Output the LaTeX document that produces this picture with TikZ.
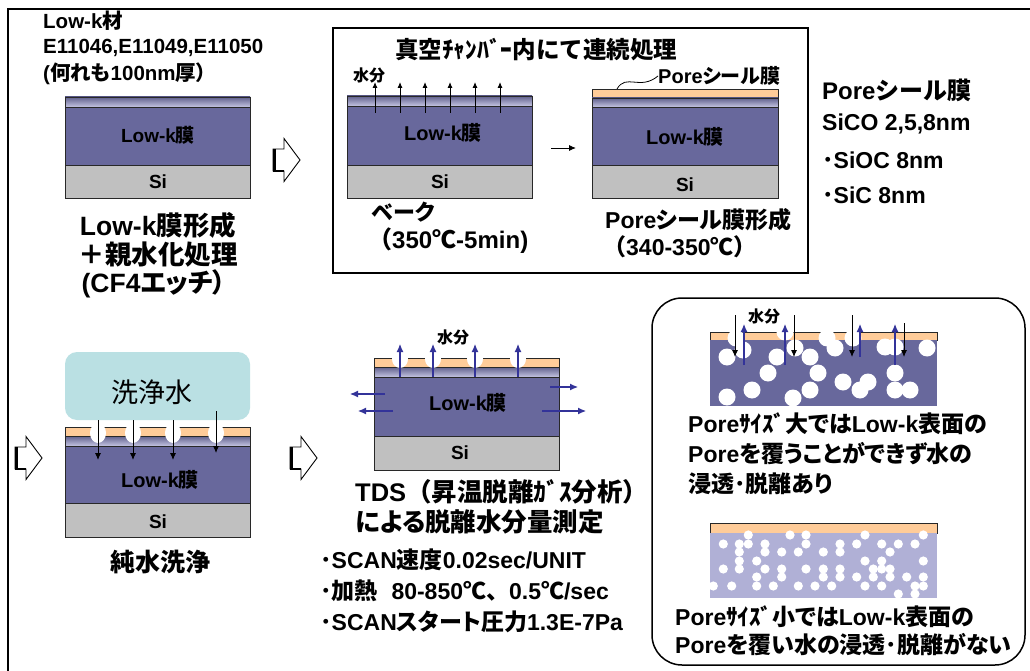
\documentclass[tikz,border=0pt]{standalone}
\usepackage{fontspec}
\setmainfont{Liberation Sans}
\newfontfamily\jpfont{Noto Sans CJK JP}[RawFeature=+palt]
\newfontfamily\jpfull{Noto Sans CJK JP}
\usetikzlibrary{arrows.meta}
% proportional and full-width Japanese runs
\newcommand\J[1]{{\jpfont #1}}
\newcommand\JF[1]{{\jpfull #1}}
\newcommand\px[1]{\fontsize{#1pt}{#1pt}\selectfont}
\newcommand\dotmark{\JF{･}}
\definecolor{lowk}{RGB}{104,104,156}
\definecolor{sigray}{RGB}{192,192,192}
\definecolor{peach}{RGB}{255,204,153}
\definecolor{stripdark}{RGB}{96,96,140}
\definecolor{striplight}{RGB}{196,196,226}
\definecolor{water}{RGB}{186,224,227}
\definecolor{finelowk}{RGB}{176,176,214}
\definecolor{wetblue}{RGB}{51,51,153}
\definecolor{edge}{RGB}{40,40,40}

\tikzset{
  lbl/.style={inner sep=0pt, anchor=west},
  ctr/.style={inner sep=0pt, anchor=center},
  edgeline/.style={draw=edge, line width=0.8pt},
  uparr/.style={-{Latex[length=6pt,width=5pt]}, line width=0.9pt, black},
  downarr/.style={-{Latex[length=7pt,width=6pt]}, line width=0.9pt, black},
  bluearr/.style={-{Latex[length=8pt,width=7pt]}, line width=1.1pt, wetblue},
}

% block arrow between process steps: name, left x, centre y
\newcommand\hollowarrow[3]{%
  \coordinate (#1) at (#2,#3);
  \draw[line width=0.9pt] (#2,#3-11) -- ++(11,0) -- ++(0,-10.5) -- (#2+27,#3)
    -- (#2+11,#3+21.5) -- ++(0,-10.5) -- (#2,#3+11) -- cycle;
  \fill[black] (#2,#3-11) rectangle ++(3,22);
  \draw[line width=1.6pt] (#2,#3+11) -- ++(11,0);
}

% film stack: x1, x2, strip top, strip bottom, low-k bottom, Si bottom
\newcommand\filmstack[6]{%
  \shade[top color=stripdark, bottom color=striplight] (#1,#3) rectangle (#2,#4);
  \filldraw[fill=lowk, edgeline] (#1,#4) rectangle (#2,#5);
  \filldraw[fill=sigray, edgeline] (#1,#5) rectangle (#2,#6);
  \draw[edgeline] (#1,#4) -- (#1,#3) -- (#2,#3) -- (#2,#4);
}

\begin{document}
\begin{tikzpicture}[x=1pt,y=-1pt,font=\bfseries]
\useasboundingbox (0,0) rectangle (1030,671);
\fill[white] (0,0) rectangle (1030,671);

% outer frame
\draw[line width=2.5pt] (8,671) -- (8,9) -- (1030,9);

% ---------- starting material ----------
\node[lbl, font=\bfseries\px{20.5}] (matl) at (43,21) {Low-k\J{材}};
\node[lbl, font=\bfseries\px{20.5}] (grades) at (43,48) {E11046,E11049,E11050};
\node[lbl, font=\bfseries\px{20.5}] (thick) at (43,74) {(\J{何れも}100nm\J{厚）}};

\filmstack{65}{250}{97}{107}{165}{198}
\node[ctr, font=\bfseries\px{19}] (film1) at (158,135) {Low-k\J{膜}};
\node[ctr, font=\bfseries\px{19}] (si1) at (158,182) {Si};
\node[ctr, font=\bfseries\px{26.5}] (cap1a) at (158,225) {Low-k\J{膜形成}};
\node[ctr, font=\bfseries\px{26.5}] (cap1b) at (158,255) {\J{＋親水化処理}};
\node[ctr, font=\bfseries\px{26.5}] (cap1c) at (154,284) {(CF4\J{エッチ）}};

\hollowarrow{step1}{273}{160}

% ---------- vacuum chamber box ----------
\draw[line width=1.5pt] (333,28) rectangle (808,273);
\node[lbl, font=\bfseries\px{23.5}] (vac) at (395,50) {\JF{真空ﾁｬﾝﾊﾞｰ内にて連続処理}};
\node[lbl, font=\bfseries\px{16}] (h2oa) at (353,75) {\J{水分}};

\filmstack{347}{532}{96}{106}{165}{198}
\foreach \x in {375,400,425,450,475,500}
  \draw[uparr] (\x,113) -- (\x,82);
\node[ctr, font=\bfseries\px{20}] (film2) at (443,133) {Low-k\J{膜}};
\node[ctr, font=\bfseries\px{19}] (si2) at (440,182) {Si};

\coordinate (nexta) at (551,148);
\coordinate (nextb) at (576,148);
\draw[downarr] (nexta) -- (nextb);

\filldraw[fill=peach, edgeline] (592,89) rectangle (778,98);
\filmstack{592}{778}{98}{107}{165}{198}
\node[ctr, font=\bfseries\px{20}] (film3) at (685,137) {Low-k\J{膜}};
\node[ctr, font=\bfseries\px{19}] (si3) at (685,185) {Si};
\node[lbl, font=\bfseries\px{20}] (seal) at (658,76) {Pore\J{シール膜}};
\coordinate (sealfoot) at (617,89);
\draw[line width=0.8pt] (sealfoot) .. controls (626,73) and (640,91) .. (seal.west);

\node[lbl, font=\bfseries\px{22}] (bake) at (372,212) {\J{ベーク}};
\node[lbl, font=\bfseries\px{24}] (baket) at (368,241) {\JF{（}350\J{℃}-5min)};
\node[lbl, font=\bfseries\px{23}] (sealcap) at (605,220) {Pore\J{シール膜形成}};
\node[lbl, font=\bfseries\px{23}] (sealt) at (603,247) {\JF{（}340-350\J{℃}\JF{）}};

% ---------- seal film list ----------
\node[lbl, font=\bfseries\px{24}] (lista) at (822,90) {Pore\JF{シール膜}};
\node[lbl, font=\bfseries\px{23}] (listb) at (822,124) {SiCO 2,5,8nm};
\node[lbl, font=\bfseries\px{23}] (listc) at (822,160) {\dotmark SiOC 8nm};
\node[lbl, font=\bfseries\px{23}] (listd) at (822,195) {\dotmark SiC 8nm};

% ---------- rinse ----------
\hollowarrow{step2}{15}{458}
\fill[water, rounded corners=12pt] (65,352) rectangle (250,420);
\node[ctr, font=\mdseries\px{27}] (wash) at (152,392) {\J{洗浄水}};
\filldraw[fill=peach, edgeline] (65,427) rectangle (250,436);
\filmstack{65}{250}{436}{446}{503}{537}
\begin{scope}
  \clip (64,427) rectangle (251,537);
  \foreach \x in {98,133,173,216} \fill[white] (\x,433) ellipse (8 and 10);
\end{scope}
\foreach \x in {98,133,173} \draw[downarr] (\x,420) -- (\x,460);
\draw[downarr] (216,411) -- (216,453);
\node[ctr, font=\bfseries\px{20}] (film4) at (160,480) {Low-k\J{膜}};
\node[ctr, font=\bfseries\px{19}] (si4) at (158,522) {Si};
\node[ctr, font=\bfseries\px{25}] (rinse) at (160,562) {\J{純水洗浄}};

% ---------- TDS ----------
\hollowarrow{step3}{290}{458}
\filldraw[fill=peach, edgeline] (374,358) rectangle (559,367);
\filmstack{374}{559}{367}{377}{436}{470}
\begin{scope}
  \clip (373,358) rectangle (560,470);
  \foreach \x in {400,433,475,518} \fill[white] (\x,359) ellipse (8 and 9);
\end{scope}
\node[ctr, font=\bfseries\px{16}] (h2ob) at (453,337) {\J{水分}};
\foreach \x in {400,433,475,518} \draw[bluearr] (\x,377) -- (\x,344);
\draw[bluearr] (385,394) -- (350,394);
\draw[bluearr] (393,411) -- (358,411);
\draw[bluearr] (550,387) -- (578,387);
\draw[bluearr] (542,411) -- (586,411);
\node[ctr, font=\bfseries\px{20}] (film5) at (468,403) {Low-k\J{膜}};
\node[ctr, font=\bfseries\px{19}] (si5) at (460,453) {Si};

\node[lbl, font=\bfseries\px{25.5}] (tdsa) at (355,492) {TDS\JF{（}\J{昇温脱離ｶﾞｽ分析}\JF{）}};
\node[lbl, font=\bfseries\px{25.5}] (tdsb) at (355,522) {\J{による脱離水分量測定}};
\node[lbl, font=\bfseries\px{23}] (cond1) at (320,560) {\dotmark SCAN\J{速度}0.02sec/UNIT};
\node[lbl, font=\bfseries\px{23}] (cond2) at (320,591) {\dotmark\J{加熱}\hspace{0.6em}80-850\J{℃}\JF{、}0.5\J{℃}/sec};
\node[lbl, font=\bfseries\px{23}] (cond3) at (320,622) {\dotmark SCAN\J{スタート圧力}1.3E-7Pa};

% ---------- pore size comparison ----------
\draw[line width=1.5pt, rounded corners=30pt] (652,298) rectangle (1025,665);

% large pores
\filldraw[fill=peach, edgeline] (710,332) rectangle (937,340);
\fill[lowk] (710,340) rectangle (937,406);
\begin{scope}
  \clip (710,331) rectangle (937,406);
  \foreach \p in {(736,338),(743,350),(727,357),(777,357),(768,373),(752,390),
                  (727,397),(785,332),(795,348),(810,357),(818,373),(810,390),
                  (793,398),(827,338),(835,348),(843,382),(860,390),(868,382),
                  (853,338),(885,347),(895,347),(895,373),(895,390),(910,390),
                  (927,348)}
    \fill[white] \p circle (8.5);
\end{scope}
\foreach \x/\a in {735/315,794/315,852/315,904/323} \draw[downarr] (\x,\a) -- (\x,357);
\foreach \x/\b in {744/365,785/365,860/357,895/365} \draw[bluearr] (\x,\b) -- (\x,324);
\node[ctr, font=\bfseries\px{16}] (h2oc) at (764,316) {\J{水分}};
\node[lbl, font=\bfseries\px{23}] (biga) at (688,424) {Pore\J{ｻｲｽﾞ大では}Low-k\J{表面の}};
\node[lbl, font=\bfseries\px{23}] (bigb) at (688,454) {Pore\J{を覆うことができず水の}};
\node[lbl, font=\bfseries\px{23}] (bigc) at (688,484) {\J{浸透}\dotmark\J{脱離あり}};

% small pores
\filldraw[fill=peach, edgeline] (710,523) rectangle (937,533);
\fill[finelowk] (710,533) rectangle (937,598);
\begin{scope}
  \clip (710,522) rectangle (937,598);
  \foreach \p in {(748.3,535),(790,535),(806,535),(865,535),(923.3,535),
     (723.3,544),(739.3,544),(748.3,544),(765,544),(806,544),(840,544),(856.7,544),(881.7,544),(898.3,544),(915,544),
     (739.3,552),(765,552),(781.7,552),(798.3,552),(823.3,552),(840,552),(890,552),
     (739.3,561),(756.7,561),(865,561),(881.7,561),(923.3,561),
     (723.3,569),(739.3,569),(765,569),(781.7,569),(806,569),(823.3,569),(840,569),(873.3,569),(881.7,569),(890,569),
     (756.7,577),(781.7,577),(823.3,577),(840,577),(856.7,577),(873.3,577),(890,577),(906.7,577),(923.3,577),
     (713.3,586),(731.7,586),(756.7,586),(773.3,586),(798.3,586),(815,586),(831.7,586),(865,586),(881.7,586),(915,586),(923.3,586),
     (898.3,594),(915,594)}
    \fill[white] \p circle (4.6);
\end{scope}
\node[lbl, font=\bfseries\px{23}] (smalla) at (675,617) {Pore\J{ｻｲｽﾞ小では}Low-k\J{表面の}};
\node[lbl, font=\bfseries\px{23}] (smallb) at (675,645) {Pore\J{を覆い水の浸透}\dotmark\J{脱離がない}};
\end{tikzpicture}
\end{document}
